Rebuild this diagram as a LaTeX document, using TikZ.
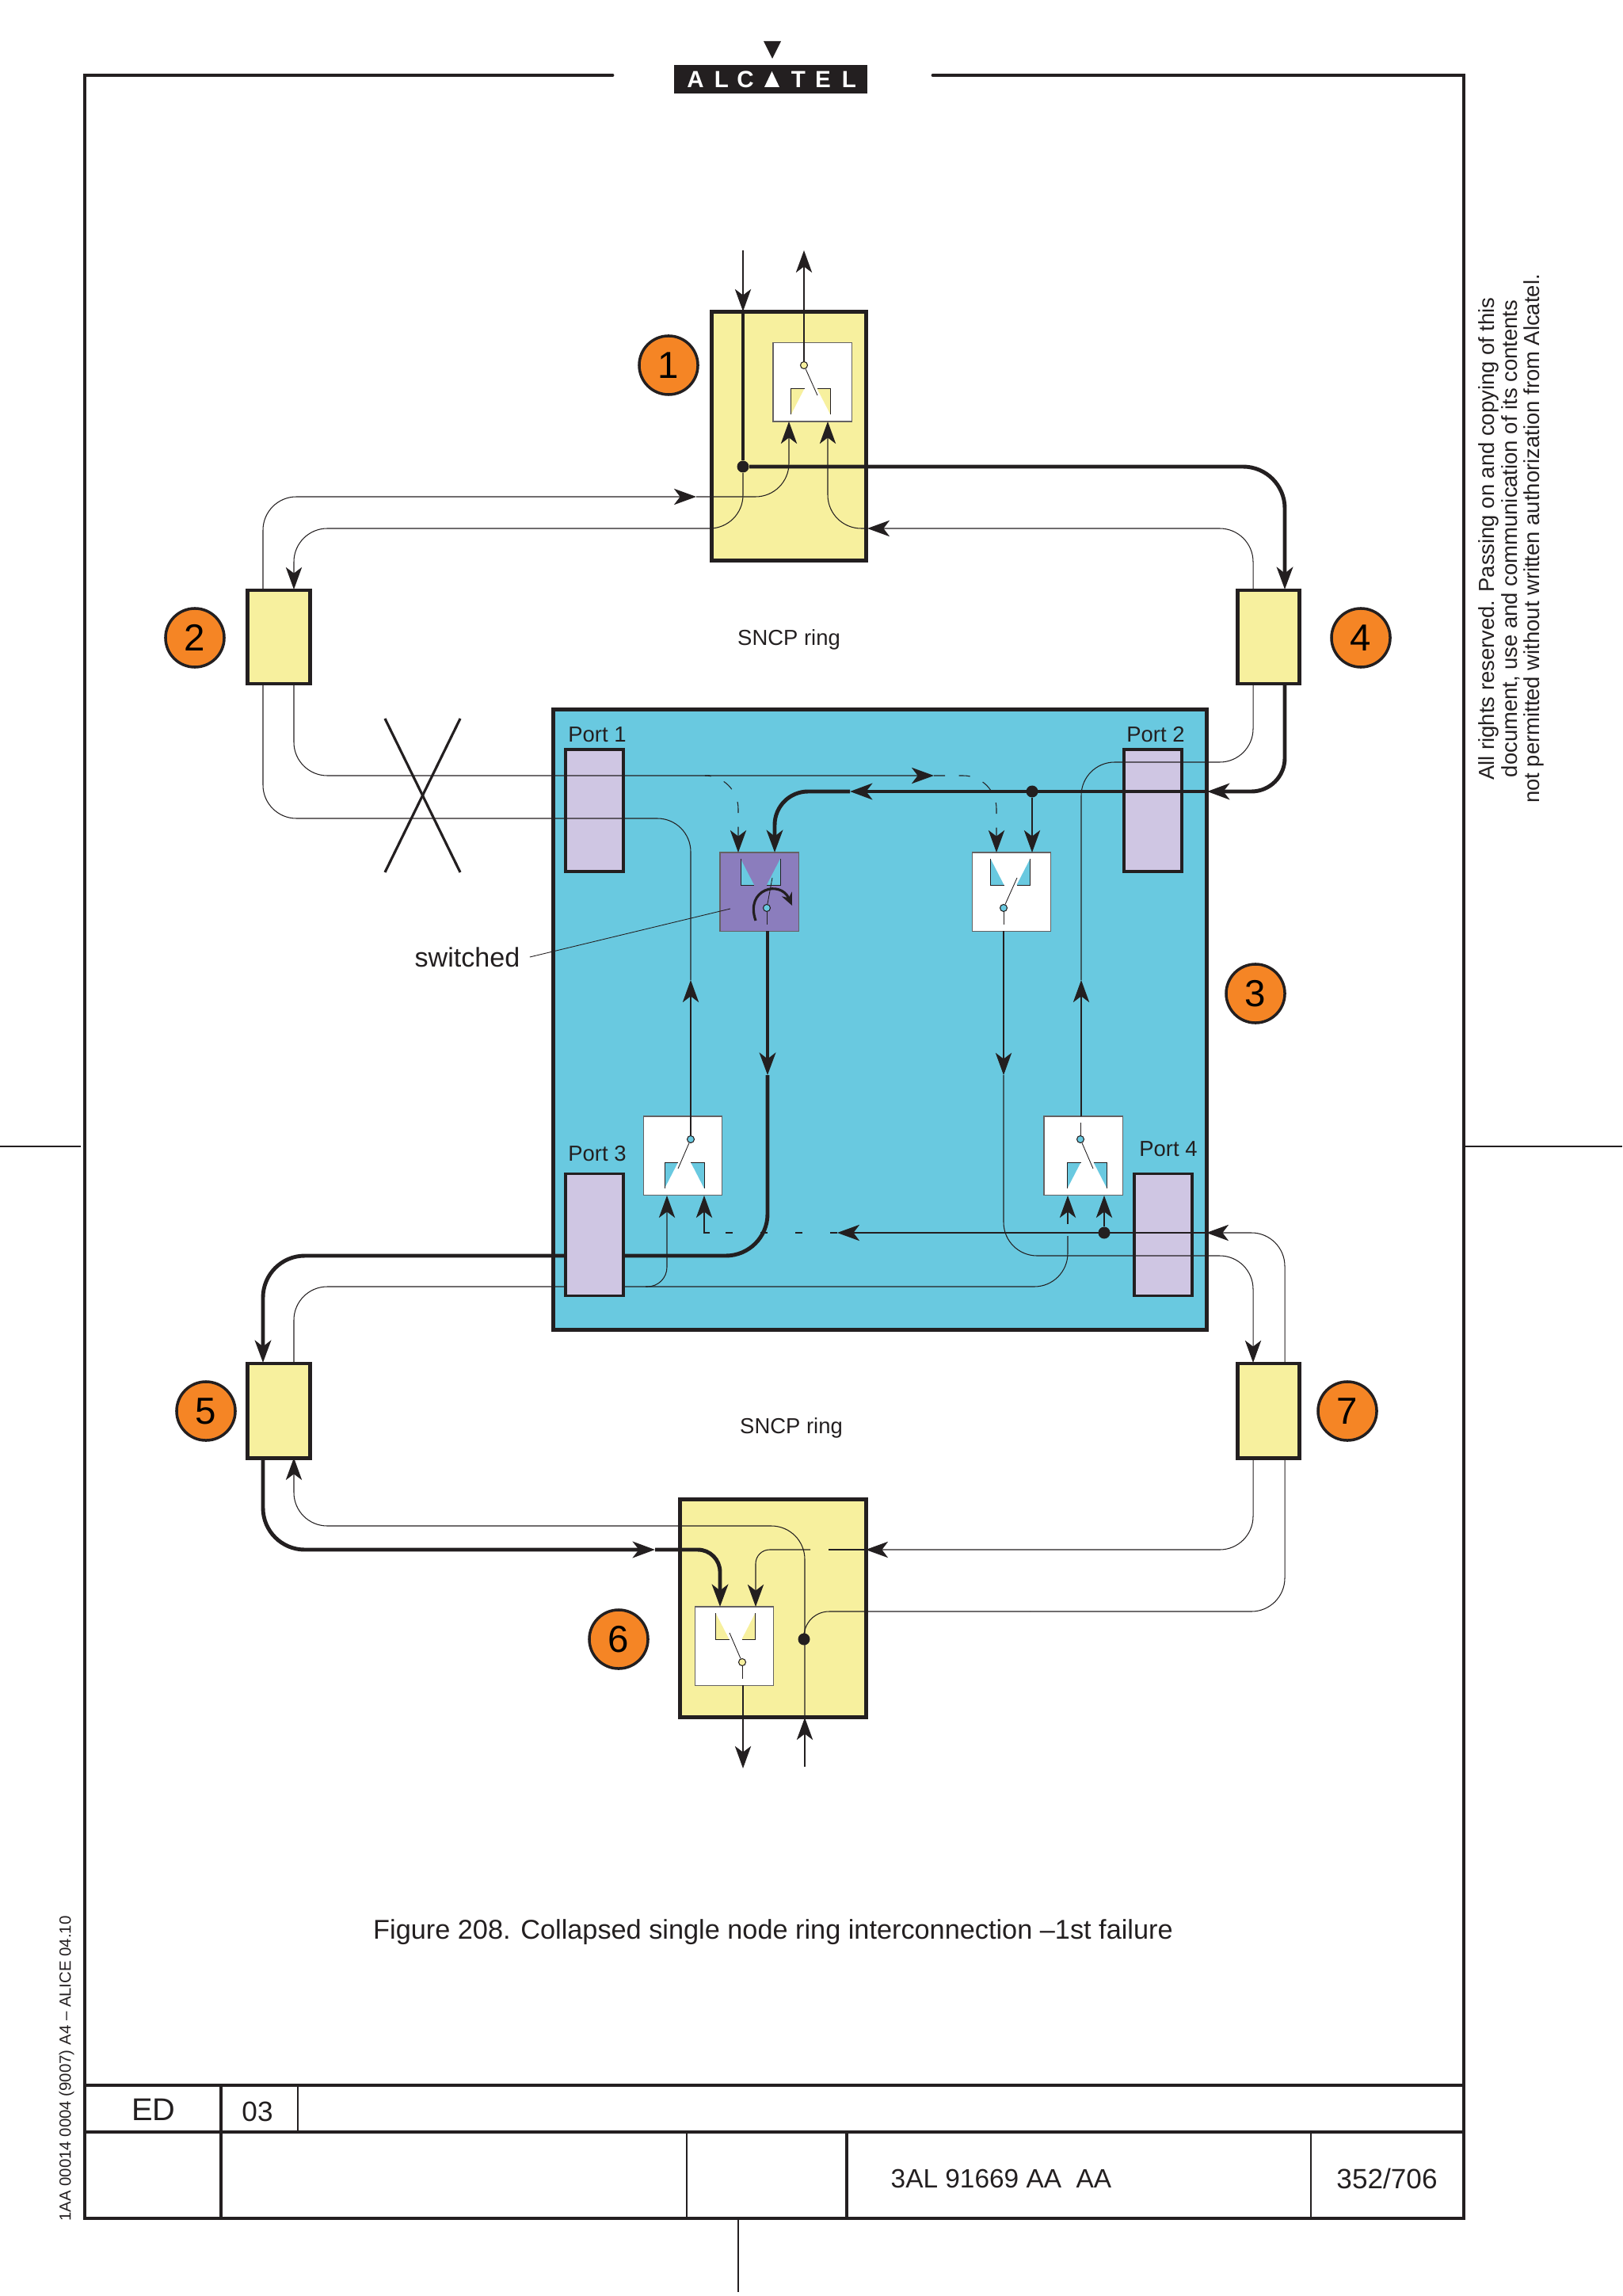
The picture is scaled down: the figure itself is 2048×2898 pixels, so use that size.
\documentclass[tikz,border=0pt]{standalone}
\usepackage{fontspec}
\setmainfont{Liberation Sans}
\usepackage{tikz}
\usetikzlibrary{arrows.meta}

\definecolor{ink}{HTML}{231F20}
\definecolor{paleyellow}{HTML}{F7F09E}
\definecolor{bluefill}{HTML}{69C9E0}
\definecolor{portfill}{HTML}{CFC6E3}
\definecolor{purplefill}{HTML}{8B7DBD}
\definecolor{badge}{HTML}{F58525}

\tikzset{
	box/.style={draw=ink, line width=1.4pt, fill=paleyellow, rectangle, inner sep=0pt},
	port/.style={draw=ink, line width=1.1pt, fill=portfill, rectangle, inner sep=0pt, minimum width=0.73cm, minimum height=1.54cm},
	selector/.style={draw=ink!70, line width=0.3pt, fill=white, rectangle, inner sep=0pt, minimum width=0.99cm, minimum height=0.99cm},
	pivot/.style={draw=ink, line width=0.3pt, circle, inner sep=0pt, minimum size=0.09cm},
	joint/.style={fill=ink, circle, inner sep=0pt, minimum size=0.15cm},
	badgenode/.style={draw=ink, line width=1pt, fill=badge, circle, inner sep=0pt, minimum size=0.74cm, font=\fontsize{13.5}{15}\selectfont},
	small/.style={font=\fontsize{7.8}{9}\selectfont, text=ink},
	framed/.style={draw=ink, line width=1.4pt},
	rule/.style={draw=ink, line width=0.5pt},
	ring/.style={draw=ink, line width=0.3pt},
	heavy/.style={draw=ink, line width=1.4pt},
	hair/.style={draw=ink, line width=0.25pt},
	broken/.style={draw=ink, line width=0.3pt, dash pattern=on 4pt off 5pt},
	sparse/.style={draw=ink, line width=0.3pt, dash pattern=on 2.5pt off 10pt},
	tipped/.style={-{Stealth[length=8pt,width=5.8pt,inset=2.2pt]}},
	corner/.style={rounded corners=12pt},
	bigcorner/.style={rounded corners=15pt},
	contacts/.pic={
		\fill[#1] (-25,-16.5)--(-25,16.5)--(-8,16.5)--cycle;
		\fill[#1] (25,-16.5)--(25,16.5)--(8,16.5)--cycle;
		\draw[hair] (-25,-16.5)--(-25,16.5)--(-8,16.5);
		\draw[hair] (25,-16.5)--(25,16.5)--(8,16.5);
	}
}

\begin{document}
\begin{tikzpicture}[x=0.01cm,y=-0.01cm]
	\useasboundingbox (0,0) rectangle (2048,2898);

	% page frame
	\coordinate (fa) at (773,95);
	\coordinate (fb) at (107,2800);
	\coordinate (fc) at (1848,2800);
	\coordinate (fd) at (1178,95);
	\draw[framed, line cap=round] (fa) -- (fa -| fb) -- (fb) -- (fc) -- (fd -| fc) -- (fd);
	\coordinate (ta) at (107,2632);
	\coordinate (tb) at (107,2691);
	\draw[framed] (ta) -- (ta -| fc);
	\draw[framed] (tb) -- (tb -| fc);
	\coordinate (va) at (279,2632);
	\coordinate (vb) at (376,2632);
	\coordinate (vc) at (867,2691);
	\coordinate (vd) at (1069,2691);
	\coordinate (ve) at (1655,2691);
	\draw[framed, line width=1pt] (va) -- (va |- fb);
	\draw[rule] (vb) -- (vb |- tb);
	\draw[rule] (vc) -- (vc |- fb);
	\draw[framed, line width=1pt] (vd) -- (vd |- fb);
	\draw[rule] (ve) -- (ve |- fb);
	\coordinate (cropa) at (0,1447);
	\coordinate (cropb) at (102,1447);
	\coordinate (cropc) at (1850,1447);
	\coordinate (cropd) at (2048,1447);
	\coordinate (crope) at (932,2800);
	\coordinate (cropf) at (932,2893);
	\draw[rule] (cropa) -- (cropb);
	\draw[rule] (cropc) -- (cropd);
	\draw[rule] (crope) -- (cropf);

	% logo
	\fill[ink] (964,52) -- (986,52) -- (975,74) -- cycle;
	\fill[ink] (851,82) rectangle (1095,118);
	\fill[white] (965,110) -- (984,110) -- (974.5,90) -- cycle;
	\node (la) at (878,100) [text=white, font=\fontsize{8.4}{10}\bfseries] {A};
	\node (lb) at (911,100) [text=white, font=\fontsize{8.4}{10}\bfseries] {L};
	\node (lc) at (941,100) [text=white, font=\fontsize{8.4}{10}\bfseries] {C};
	\node (ld) at (1008,100) [text=white, font=\fontsize{8.4}{10}\bfseries] {T};
	\node (le) at (1039,100) [text=white, font=\fontsize{8.4}{10}\bfseries] {E};
	\node (lf) at (1072,100) [text=white, font=\fontsize{8.4}{10}\bfseries] {L};

	% boxes
	\node (nodeone) at (996,550.5) [box, minimum width=1.94cm, minimum height=3.13cm] {};
	\node (boxtwo) at (352,804) [box, minimum width=0.79cm, minimum height=1.18cm] {};
	\node (boxfour) at (1601.5,804) [box, minimum width=0.78cm, minimum height=1.18cm] {};
	\node (boxfive) at (352,1780.5) [box, minimum width=0.79cm, minimum height=1.19cm] {};
	\node (boxseven) at (1601.5,1780.5) [box, minimum width=0.78cm, minimum height=1.19cm] {};
	\node (nodesix) at (976,2030) [box, minimum width=2.34cm, minimum height=2.74cm] {};
	\node (core) at (1111,1287) [box, fill=bluefill, minimum width=8.24cm, minimum height=7.82cm] {};
	\node (portone) at (750.5,1023) [port] {};
	\node (porttwo) at (1455.5,1023) [port] {};
	\node (portfour) at (1468.5,1558.5) [port] {};

	% selectors
	\node (swone) at (1025.5,482.5) [selector] {};
	\node (swsix) at (927,2077.5) [selector] {};
	\node (swa) at (958.5,1125.5) [selector, fill=purplefill] {};
	\node (swb) at (1277,1125.5) [selector] {};
	\node (swc) at (862,1458.5) [selector] {};
	\node (swd) at (1367.5,1458.5) [selector] {};
	\pic[yscale=-1] at (1023.5,507) {contacts=paleyellow};
	\pic at (928.5,2052.5) {contacts=paleyellow};
	\pic at (960,1100.5) {contacts=bluefill};
	\pic at (1275.5,1100.5) {contacts=bluefill};
	\pic[yscale=-1] at (864,1483.5) {contacts=bluefill};
	\pic[yscale=-1] at (1372.5,1483.5) {contacts=bluefill};

	% joints
	\node (jone) at (938,589) [joint] {};
	\node (jtwo) at (1303,999) [joint] {};
	\node (jthree) at (1394,1556) [joint] {};
	\node (jfour) at (1015,2069) [joint] {};

	% pivots
	\node (pone) at (1015,461) [pivot, fill=paleyellow] {};
	\node (psix) at (937,2098) [pivot, fill=paleyellow] {};
	\node (pa) at (968,1146) [pivot, fill=bluefill] {};
	\node (pb) at (1267,1146) [pivot, fill=bluefill] {};
	\node (pc) at (872,1438) [pivot, fill=bluefill] {};
	\node (pd) at (1364,1438) [pivot, fill=bluefill] {};

	% arms
	\coordinate (aone) at (1032,499);
	\coordinate (asix) at (921,2061);
	\coordinate (aa) at (975,1108);
	\coordinate (ab) at (1284,1108);
	\coordinate (ac) at (856,1475);
	\coordinate (ad) at (1380,1475);
	\draw[hair] (pone) -- (aone);
	\draw[hair] (psix) -- (asix);
	\draw[hair] (pa) -- (aa);
	\draw[hair] (pb) -- (ab);
	\draw[hair] (pc) -- (ac);
	\draw[hair] (pd) -- (ad);
	\coordinate (sa) at (968,1167);
	\coordinate (sb) at (1267,1167);
	\coordinate (sd) at (1364,1417);
	\coordinate (ss) at (937,2119);
	\draw[hair] (pa) -- (sa);
	\draw[hair] (pb) -- (sb);
	\draw[hair] (pd) -- (sd);
	\draw[hair] (psix) -- (ss);
	\coordinate (ca) at (954,1162);
	\coordinate (cb) at (1000,1143);
	\draw[heavy, line width=0.9pt, -{Stealth[length=4.5pt,width=4pt]}] (ca) .. controls (940,1122) and (985,1110) .. (cb);

	% upper ring, node 1
	\coordinate (ina) at (938,316);
	\coordinate (inb) at (938,393);
	\coordinate (outa) at (1015,316);
	\coordinate (tfour) at (1622,744);
	\coordinate (ktwo) at (600,667);
	\coordinate (ttwo) at (371,744);
	\coordinate (btwo) at (332,744);
	\coordinate (ma) at (879,627);
	\coordinate (ua) at (996,532);
	\coordinate (bfour) at (1582,744);
	\coordinate (mb) at (1095,667);
	\coordinate (ub) at (1045,532);
	\draw[ring, tipped] (ina) -- (inb);
	\draw[heavy] (inb) -- (jone);
	\draw[ring, tipped] (pone) -- (outa);
	\draw[heavy, bigcorner, tipped] (jone) -| (tfour);
	\draw[ring, corner, tipped] (jone) |- (ktwo) -| (ttwo);
	\draw[ring, corner, tipped] (btwo) |- (ma);
	\draw[ring, corner, tipped] (ma) -| (ua);
	\draw[ring, corner, tipped] (bfour) |- (mb);
	\draw[ring, corner, tipped] (mb) -| (ub);

	% Port 1 and Port 2 side
	\coordinate (dtwo) at (371,863);
	\coordinate (mc) at (1179,979);
	\coordinate (va1) at (1258,1076);
	\coordinate (fork) at (896,979);
	\coordinate (va2) at (932,1076);
	\draw[ring, corner, tipped] (dtwo) |- (mc);
	\draw[broken, corner, tipped] (mc) -| (va1);
	\draw[broken, corner, tipped] (fork) -| (va2);
	\coordinate (ctwo) at (332,863);
	\coordinate (kone) at (600,1033);
	\coordinate (mup) at (872,1237);
	\draw[ring, tipped] (pc) -- (mup);
	\draw[ring, corner] (mup) |- (kone) -| (ctwo);
	\coordinate (dfour) at (1622,863);
	\coordinate (md) at (1524,999);
	\coordinate (me) at (1073,999);
	\coordinate (tb1) at (978,1076);
	\coordinate (tb2) at (1303,1076);
	\draw[heavy, corner, tipped] (dfour) |- (md);
	\draw[heavy, tipped] (md) -- (me);
	\draw[heavy, corner, tipped] (me) -| (tb1);
	\draw[ring, tipped] (jtwo) -- (tb2);

	% vertical paths in the core
	\coordinate (oa) at (969,1175);
	\coordinate (ob) at (969,1357);
	\coordinate (kfive) at (700,1585);
	\coordinate (tfive) at (332,1720);
	\draw[heavy, tipped] (oa) -- (ob);
	\draw[heavy, bigcorner, tipped] (ob) |- (kfive) -| (tfive);
	\coordinate (oc) at (1267,1175);
	\coordinate (od) at (1267,1357);
	\coordinate (kseven) at (1450,1585);
	\coordinate (tseven) at (1582,1720);
	\draw[ring, tipped] (oc) -- (od);
	\draw[ring, corner, tipped] (od) |- (kseven) -| (tseven);
	\coordinate (oe) at (1365,1409);
	\coordinate (of) at (1365,1237);
	\coordinate (kthree) at (1450,962);
	\coordinate (cfour) at (1582,863);
	\draw[ring, tipped] (oe) -- (of);
	\draw[ring, corner] (of) |- (kthree) -| (cfour);

	% Port 3 and Port 4 side
	\coordinate (bseven) at (1622,1720);
	\coordinate (mf) at (1523,1556);
	\coordinate (mg) at (1057,1556);
	\coordinate (mh) at (896,1556);
	\coordinate (tc2) at (889,1509);
	\coordinate (td2) at (1394,1509);
	\draw[ring, corner, tipped] (bseven) |- (mf);
	\draw[ring, tipped] (mf) -- (mg);
	\draw[sparse] (mg) -- (mh);
	\draw[ring, tipped] (mh) -| (tc2);
	\draw[ring, tipped] (jthree) -- (td2);
	\coordinate (bfive) at (371,1720);
	\coordinate (kfour) at (700,1624);
	\coordinate (gap) at (1348,1560);
	\coordinate (gb) at (1348,1545);
	\coordinate (td1) at (1348,1509);
	\coordinate (fk) at (815,1624);
	\coordinate (tc1) at (842,1509);
	\draw[ring, corner] (bfive) |- (kfour) -| (gap);
	\draw[ring, tipped] (gb) -- (td1);
	\draw[ring, rounded corners=7pt, tipped] (fk) -| (tc1);
	\node (portthree) at (750.5,1558.5) [port] {};

	% lower ring, node 6
	\coordinate (cfive) at (332,1840);
	\coordinate (mi) at (827,1956);
	\coordinate (tsa) at (909,2028);
	\draw[heavy, bigcorner, tipped] (cfive) |- (mi);
	\draw[heavy, rounded corners=8pt, tipped] (mi) -| (tsa);
	\coordinate (ctop) at (1622,1840);
	\coordinate (ksix) at (1300,2034);
	\draw[ring, rounded corners=9pt] (jfour) |- (ksix);
	\draw[ring, corner] (ksix) -| (ctop);
	\coordinate (dseven) at (1582,1840);
	\coordinate (mj) at (1093,1956);
	\coordinate (ga) at (1046,1956);
	\coordinate (gc) at (1023,1956);
	\coordinate (tsb) at (954,2028);
	\draw[ring, corner, tipped] (dseven) |- (mj);
	\draw[ring] (mj) -- (ga);
	\draw[ring, rounded corners=5pt, tipped] (gc) -| (tsb);
	\coordinate (ia) at (1016,2230);
	\coordinate (ib) at (1016,2168);
	\coordinate (keight) at (700,1926);
	\coordinate (ufive) at (371,1840);
	\draw[ring, tipped] (ia) -- (ib);
	\draw[ring, corner, tipped] (ib) |- (keight) -| (ufive);
	\coordinate (oa6) at (938,2127);
	\coordinate (ob6) at (938,2232);
	\draw[ring, tipped] (oa6) -- (ob6);

	% cross on the failed span
	\coordinate (xa) at (486,907);
	\coordinate (xb) at (581,1101);
	\coordinate (xc) at (581,907);
	\coordinate (xd) at (486,1101);
	\draw[heavy, line width=0.9pt] (xa) -- (xb);
	\draw[heavy, line width=0.9pt] (xc) -- (xd);

	% labels
	\node (no1) at (844,461) [badgenode] {1};
	\node (no2) at (246,805) [badgenode] {2};
	\node (no3) at (1585,1254) [badgenode] {3};
	\node (no4) at (1718,805) [badgenode] {4};
	\node (no5) at (260,1781) [badgenode] {5};
	\node (no6) at (781,2069) [badgenode] {6};
	\node (no7) at (1701,1781) [badgenode] {7};
	\node (ringa) at (996,807) [small] {SNCP ring};
	\node (ringb) at (999,1802) [small] {SNCP ring};
	\node (labone) at (754,927) [small] {Port 1};
	\node (labtwo) at (1459,927) [small] {Port 2};
	\node (labthree) at (754,1456) [small] {Port 3};
	\node (labfour) at (1475,1450) [small] {Port 4};
	\node (switched) at (590,1208) [font=\fontsize{9.7}{12}\selectfont, text=ink] {switched};
	\coordinate (lead) at (922,1147);
	\draw[hair] (switched.east) -- (lead);
	\node (caption) at (976,2439) [font=\fontsize{9.75}{12}\selectfont, text=ink] {Figure 208. Collapsed single node ring interconnection –1st failure};

	% margin texts
	\node (notice) at (1908,680) [rotate=90, align=center, font=\fontsize{7.8}{8.1}\selectfont, text=ink, inner sep=0pt] {All rights reserved. Passing on and copying of this\\document, use and communication of its contents\\not permitted without written authorization from Alcatel.};
	\node (code) at (84,2611) [rotate=90, font=\fontsize{5.8}{7}\selectfont, text=ink, inner sep=0pt] {1AA 00014 0004 (9007) A4 – ALICE 04.10};

	% title block
	\node (ed) at (194,2663) [font=\fontsize{11.3}{13}\selectfont, text=ink] {ED};
	\node (issue) at (325,2665) [font=\fontsize{10}{12}\selectfont, text=ink] {03};
	\node (docno) at (1124,2750) [anchor=west, inner sep=0pt, font=\fontsize{9.5}{12}\selectfont, text=ink] {3AL 91669 AA\ \ AA};
	\node (pageno) at (1751,2750) [font=\fontsize{10}{12}\selectfont, text=ink] {352/706};
\end{tikzpicture}
\end{document}
